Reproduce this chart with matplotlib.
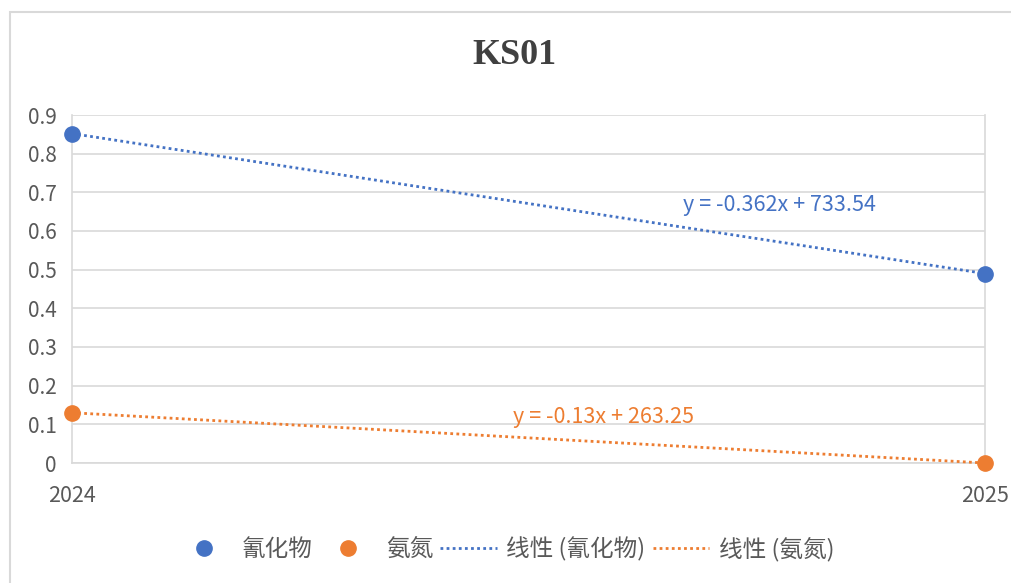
import numpy as np
import matplotlib.pyplot as plt
from matplotlib.patches import Rectangle

plt.rcParams['font.family'] = ['Noto Sans CJK SC', 'DejaVu Sans']

years = [2024, 2025]
cyanide = [0.852, 0.49]
ammonia = [0.13, 0.0]
names = ['氰化物', '氨氮']
title = 'KS01'
blue = '#4472C4'
orange = '#ED7D31'
grey = '#595959'

fig = plt.figure(figsize=(10.11, 5.83), dpi=100)
fig.patches.append(Rectangle((10 / 1011, -0.1), 1.2, 1 - 12 / 583 + 0.1,
                             transform=fig.transFigure, fill=False,
                             edgecolor='#d9d9d9', linewidth=1.5))
ax = fig.add_axes([72 / 1011, 1 - 463 / 583, (985 - 72) / 1011, (463 - 115) / 583])

x = np.array(years, dtype=float)
handles = []
for vals, col, name in [(cyanide, blue, names[0]), (ammonia, orange, names[1])]:
    h, = ax.plot(x, vals, 'o', color=col, markersize=11, linestyle='none',
                 label=name, zorder=4, clip_on=False)
    handles.append(h)
trend_h = []
for vals, col, name in [(cyanide, blue, names[0]), (ammonia, orange, names[1])]:
    k, b = np.polyfit(x, vals, 1)
    h, = ax.plot(x, k * x + b, color=col, linewidth=2, linestyle=(0, (1, 1.2)),
                 label='线性 (%s)' % name, zorder=3, clip_on=False)
    trend_h.append(h)

ax.text(2024.669, 0.668, 'y = -0.362x + 733.54', color=blue, fontsize=15.5,
        ha='left', va='center')
ax.text(2024.483, 0.12, 'y = -0.13x + 263.25', color=orange, fontsize=15.5,
        ha='left', va='center')

ax.set_xlim(2024, 2025)
ax.set_ylim(0, 0.9)
ax.set_yticks(np.arange(0, 0.91, 0.1))
ax.set_yticklabels(['0'] + ['%.1f' % v for v in np.arange(0.1, 0.91, 0.1)])
ax.set_xticks(years)
ax.set_xticklabels([str(y) for y in years])
ax.tick_params(axis='y', length=0, pad=11, labelsize=15, labelcolor=grey)
ax.tick_params(axis='x', length=0, pad=16, labelsize=15.5, labelcolor=grey)
ax.grid(axis='y', color='#d9d9d9', linewidth=1.2)
for s in ['top']:
    ax.spines[s].set_visible(False)
for s in ['left', 'right', 'bottom']:
    ax.spines[s].set_color('#d9d9d9')
    ax.spines[s].set_linewidth(1.2)

fig.text(514 / 1011, 1 - 56 / 583, title, fontsize=26, fontweight='bold',
         family='Liberation Serif', color='#404040', ha='center', va='center')

fig.legend(handles + trend_h, [h.get_label() for h in handles + trend_h],
           loc='center', bbox_to_anchor=(505 / 1011, 1 - 549 / 583), ncol=4,
           frameon=False, fontsize=17, labelcolor=grey, handlelength=2.4,
           handletextpad=0.4, columnspacing=0.3)

fig.savefig('out.png', dpi=100)
